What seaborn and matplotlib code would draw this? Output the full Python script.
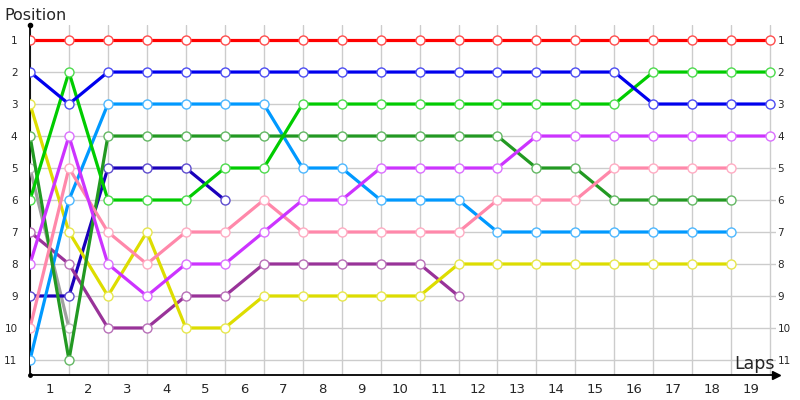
import numpy as np
import pandas as pd
import seaborn as sns
import matplotlib.pyplot as plt
from matplotlib.colors import to_rgb

# positions per lap (lap 0 = start)
red = [1, 1, 1, 1, 1, 1, 1, 1, 1, 1, 1, 1, 1, 1, 1, 1, 1, 1, 1, 1]
blue = [2, 3, 2, 2, 2, 2, 2, 2, 2, 2, 2, 2, 2, 2, 2, 2, 3, 3, 3, 3]
green = [6, 2, 6, 6, 6, 5, 5, 3, 3, 3, 3, 3, 3, 3, 3, 3, 2, 2, 2, 2]
purple = [8, 4, 8, 9, 8, 8, 7, 6, 6, 5, 5, 5, 5, 4, 4, 4, 4, 4, 4, 4]
pink = [10, 5, 7, 8, 7, 7, 6, 7, 7, 7, 7, 7, 6, 6, 6, 5, 5, 5, 5]
dark_green = [4, 11, 4, 4, 4, 4, 4, 4, 4, 4, 4, 4, 4, 5, 5, 6, 6, 6, 6]
light_blue = [11, 6, 3, 3, 3, 3, 3, 5, 5, 6, 6, 6, 7, 7, 7, 7, 7, 7, 7]
yellow = [3, 7, 9, 7, 10, 10, 9, 9, 9, 9, 9, 8, 8, 8, 8, 8, 8, 8, 8]
dark_purple = [7, 8, 10, 10, 9, 9, 8, 8, 8, 8, 8, 9]
dark_blue = [9, 9, 5, 5, 5, 6]
gray = [5, 10]

drivers = {
    'gray': (gray, '#a0a0a0'),
    'dark_blue': (dark_blue, '#1a00bb'),
    'dark_purple': (dark_purple, '#993399'),
    'yellow': (yellow, '#dddd00'),
    'light_blue': (light_blue, '#0099ff'),
    'dark_green': (dark_green, '#229922'),
    'pink': (pink, '#ff88aa'),
    'purple': (purple, '#cc33ff'),
    'green': (green, '#00cc00'),
    'blue': (blue, '#0000ee'),
    'red': (red, '#ff0000'),
}
lap_labels = [str(i) for i in range(1, 20)]
positions = list(range(1, 12))

rows = []
for name, (vals, col) in drivers.items():
    for lap, p in enumerate(vals):
        rows.append({'driver': name, 'lap': lap, 'pos': p})
df = pd.DataFrame(rows)
palette = {name: col for name, (vals, col) in drivers.items()}

sns.set_style('white')
plt.rcParams['font.family'] = ['DejaVu Sans']

fig = plt.figure(figsize=(8, 4), dpi=100)
ax = fig.add_axes([0.0375, 0.0625, 0.9325, 0.875])

sns.lineplot(data=df, x='lap', y='pos', hue='driver', palette=palette,
             hue_order=list(drivers.keys()), marker='o', markersize=6.5,
             markerfacecolor='white', linewidth=2.3, legend=False, ax=ax,
             zorder=3, sort=False)

# light marker edges in the line colour
for line in ax.lines:
    c = np.array(to_rgb(line.get_color()))
    line.set_markeredgecolor(c + (1 - c) * 0.3)
    line.set_markeredgewidth(1.0)
    line.set_markerfacecolor('white')

ax.set_xlim(0, 19.15)
ax.set_ylim(11.47, 0.53)

ax.set_xticks(range(20))
ax.set_xticklabels([])
ax.set_xticks(np.arange(0.5, 19), lap_labels, minor=True)
ax.set_yticks(positions)
ax.set_yticklabels([str(p) for p in positions])
ax.grid(True, which='major', color='#cccccc', linewidth=1)
ax.tick_params(axis='x', which='both', length=0, labelsize=9.5, pad=6)
ax.tick_params(axis='y', length=0, labelsize=7.5, pad=9)

# position labels again on the right side
ax2 = ax.twinx()
ax2.set_ylim(ax.get_ylim())
ax2.set_yticks(positions)
ax2.set_yticklabels([str(p) for p in positions])
ax2.tick_params(axis='y', length=0, labelsize=7.5, pad=1)
for s in ax2.spines.values():
    s.set_visible(False)
ax2.grid(False)

for s in ['top', 'right']:
    ax.spines[s].set_visible(False)
for s in ['left', 'bottom']:
    ax.spines[s].set_color('black')
    ax.spines[s].set_linewidth(1.3)

ax.set_xlabel('')
ax.set_ylabel('')

# arrow on x axis, dots on axis ends
ax.plot(1, 0, '>', color='black', markersize=6, transform=ax.transAxes, clip_on=False)
ax.plot(0, 1, 'o', color='black', markersize=3, transform=ax.transAxes, clip_on=False)
ax.plot(0, 0, 'o', color='black', markersize=2.5, transform=ax.transAxes, clip_on=False)

fig.text(0.006, 0.96, 'Position', fontsize=11.5, ha='left', va='center')
fig.text(0.968, 0.09, 'Laps', fontsize=12.5, ha='right', va='center')

fig.savefig('out.png', dpi=100)
